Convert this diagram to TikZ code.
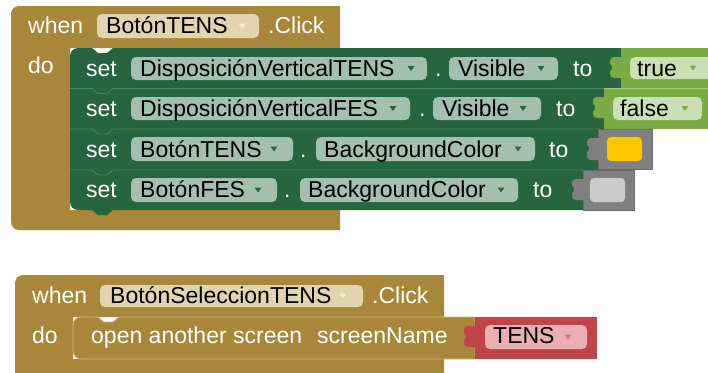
\documentclass[tikz,border=0pt]{standalone}
\usepackage{fontspec}
\setmainfont{Liberation Sans}
\definecolor{gold}{HTML}{A8873A}
\definecolor{goldfield}{HTML}{E1D4AE}
\definecolor{goldarrow}{HTML}{F5EEDC}
\definecolor{goldline}{HTML}{CDB784}
\definecolor{blkgreen}{HTML}{276440}
\definecolor{greenfield}{HTML}{A3BFAE}
\definecolor{greenline}{HTML}{4C8566}
\definecolor{lgreen}{HTML}{78AC42}
\definecolor{lgfield}{HTML}{CADFB5}
\definecolor{lgline}{HTML}{A2C97A}
\definecolor{blkgrey}{HTML}{808080}
\definecolor{greyline}{HTML}{6A6A6A}
\definecolor{swyellow}{HTML}{FFC600}
\definecolor{swgrey}{HTML}{CCCCCC}
\definecolor{blkred}{HTML}{C0454A}
\definecolor{pinkfield}{HTML}{E8B0B2}
\definecolor{pinkarrow}{HTML}{D8767C}
\newcommand\ddarr[3]{\fill[#3] (#1,#2) ++(-3.5,-2.5) -- ++(7,0) -- ++(-3.5,5) -- cycle;}
\newcommand\tabshape[4]{\fill[#4] (#1,#2) -- ++(-8,0) to[out=180,in=90] ++(-4,4) -- ++(0,3) to[out=0,in=0] ++(0,7) -- ++(0,#3-18) to[out=270,in=180] ++(4,4) -- ++(8,0) -- cycle;}
\begin{document}
\begin{tikzpicture}[x=1pt,y=-1pt,
  lbl/.style={anchor=base west,inner sep=0pt,text=white,font=\fontsize{23}{27}\selectfont},
  fld/.style={anchor=base west,inner sep=0pt,text=black,font=\fontsize{23}{27}\selectfont},
  fieldbox/.style={rounded corners=5pt}]
\useasboundingbox (0,0) rectangle (708,372);
\clip (0,0) rectangle (708,372);
\fill[white] (0,0) rectangle (708,372);

% ---------- first event block ----------
\fill[gold] (11,14) arc[start angle=180,end angle=270,radius=8] -- (340,6) -- (340,48) -- (70,48) -- (70,210) -- (340,210) -- (340,230) -- (19,230) arc[start angle=90,end angle=180,radius=8] -- cycle;
\fill[goldfield,fieldbox] (97,14) rectangle (259,38);
\ddarr{242}{26}{goldarrow}
\node[lbl] (when1) at (28,33.5) {when};
\node[fld] (btn1) at (106,33.5) {BotónTENS};
\node[lbl] (click1) at (268,33.5) {.Click};
\node[lbl] (do1) at (28,73) {do};

% green statement stack
\fill[blkgreen] (70,56) arc[start angle=180,end angle=270,radius=8] -- (92,48) -- (98,53) -- (107,53) -- (113,48) -- (621,48) -- (621,88.5) -- (604,88.5) -- (604,129) -- (598,129) -- (598,170) -- (583,170) -- (583,210) -- (113,210) -- (107,215) -- (98,215) -- (92,210) -- (78,210) arc[start angle=90,end angle=180,radius=8] -- cycle;
\draw[greenline,line width=0.8pt] (70,88.5) -- (92,88.5) -- (98,93.5) -- (107,93.5) -- (113,88.5) -- (604,88.5);
\draw[greenline,line width=0.8pt] (70,129) -- (92,129) -- (98,134) -- (107,134) -- (113,129) -- (598,129);
\draw[greenline,line width=0.8pt] (70,170) -- (92,170) -- (98,175) -- (107,175) -- (113,170) -- (583,170);

% row 1
\fill[greenfield,fieldbox] (131,57) rectangle (427,80);
\fill[greenfield,fieldbox] (449,57) rectangle (558,80);
\ddarr{411}{68.5}{blkgreen}
\ddarr{541}{68.5}{blkgreen}
\node[lbl] (set1) at (86,76) {set};
\node[fld] (comp1) at (140,76) {DisposiciónVerticalTENS};
\node[lbl] (dot1) at (435,76) {.};
\node[fld] (prop1) at (458,76) {Visible};
\node[lbl] (to1) at (573,76) {to};
\fill[lgreen] (621,48) rectangle (712,88.5);
\tabshape{622}{57}{21}{lgreen}
\fill[lgfield,fieldbox] (630,57) rectangle (715,79);
\ddarr{693}{68}{lgreen}
\node[fld] (val1) at (637,76) {true};

% row 2
\fill[greenfield,fieldbox] (131,97) rectangle (410,120);
\fill[greenfield,fieldbox] (433,97) rectangle (541,120);
\ddarr{393}{108.5}{blkgreen}
\ddarr{523}{108.5}{blkgreen}
\node[lbl] (set2) at (86,116.5) {set};
\node[fld] (comp2) at (140,116.5) {DisposiciónVerticalFES};
\node[lbl] (dot2) at (419,116.5) {.};
\node[fld] (prop2) at (442,116.5) {Visible};
\node[lbl] (to2) at (556,116.5) {to};
\fill[lgreen] (604,88.5) rectangle (712,129);
\draw[lgline,line width=0.8pt] (604,88.5) -- (712,88.5);
\tabshape{605}{97}{21}{lgreen}
\fill[lgfield,fieldbox] (613,97) rectangle (702,120);
\ddarr{685}{108.5}{lgreen}
\node[fld] (val2) at (620,116.5) {false};

% row 3
\fill[greenfield,fieldbox] (131,137) rectangle (293,161);
\fill[greenfield,fieldbox] (316,137) rectangle (535,161);
\ddarr{274}{149}{blkgreen}
\ddarr{518}{149}{blkgreen}
\node[lbl] (set3) at (86,157) {set};
\node[fld] (comp3) at (140,157) {BotónTENS};
\node[lbl] (dot3) at (300,157) {.};
\node[fld] (prop3) at (324,157) {BackgroundColor};
\node[lbl] (to3) at (549,157) {to};
\fill[blkgrey,draw=greyline,line width=0.8pt] (598,129.5) rectangle (652,169.5);
\tabshape{599}{138}{22}{blkgrey}
\fill[swyellow,rounded corners=4pt] (607,137) rectangle (642,161);

% row 4
\fill[greenfield,fieldbox] (131,178) rectangle (277,202);
\fill[greenfield,fieldbox] (300,178) rectangle (518,202);
\ddarr{258}{190}{blkgreen}
\ddarr{501}{190}{blkgreen}
\node[lbl] (set4) at (86,197.5) {set};
\node[fld] (comp4) at (140,197.5) {BotónFES};
\node[lbl] (dot4) at (284,197.5) {.};
\node[fld] (prop4) at (308,197.5) {BackgroundColor};
\node[lbl] (to4) at (533,197.5) {to};
\fill[blkgrey,draw=greyline,line width=0.8pt] (583,170) rectangle (634,210);
\tabshape{584}{179}{21}{blkgrey}
\fill[swgrey,rounded corners=4pt] (590,178) rectangle (625,202);

% ---------- second event block ----------
\fill[gold] (15,283) arc[start angle=180,end angle=270,radius=8] -- (444,275) -- (444,317) -- (73,317) -- (73,359) -- (444,359) -- (444,385) -- (15,385) -- cycle;
\fill[goldfield,fieldbox] (100,285) rectangle (363,307);
\ddarr{343}{296}{goldarrow}
\node[lbl] (when2) at (32,303) {when};
\node[fld] (btn2) at (110,303) {BotónSeleccionTENS};
\node[lbl] (click2) at (372,303) {.Click};
\node[lbl] (do2) at (32,343) {do};

\filldraw[fill=gold,draw=goldline,line width=0.8pt] (73,325) arc[start angle=180,end angle=270,radius=8] -- (98,317) -- (104,322) -- (113,322) -- (119,317) -- (475,317) -- (475,359) -- (81,359) arc[start angle=90,end angle=180,radius=8] -- cycle;
\node[lbl] (open) at (91,343) {open another screen};
\node[lbl] (sname) at (317,343) {screenName};
\fill[blkred] (475,317) rectangle (597,359);
\tabshape{476}{326}{21}{blkred}
\fill[pinkfield,fieldbox] (485,325) rectangle (587,349);
\ddarr{568}{337}{pinkarrow}
\node[fld] (tens) at (493,343) {TENS};
\end{tikzpicture}
\end{document}
